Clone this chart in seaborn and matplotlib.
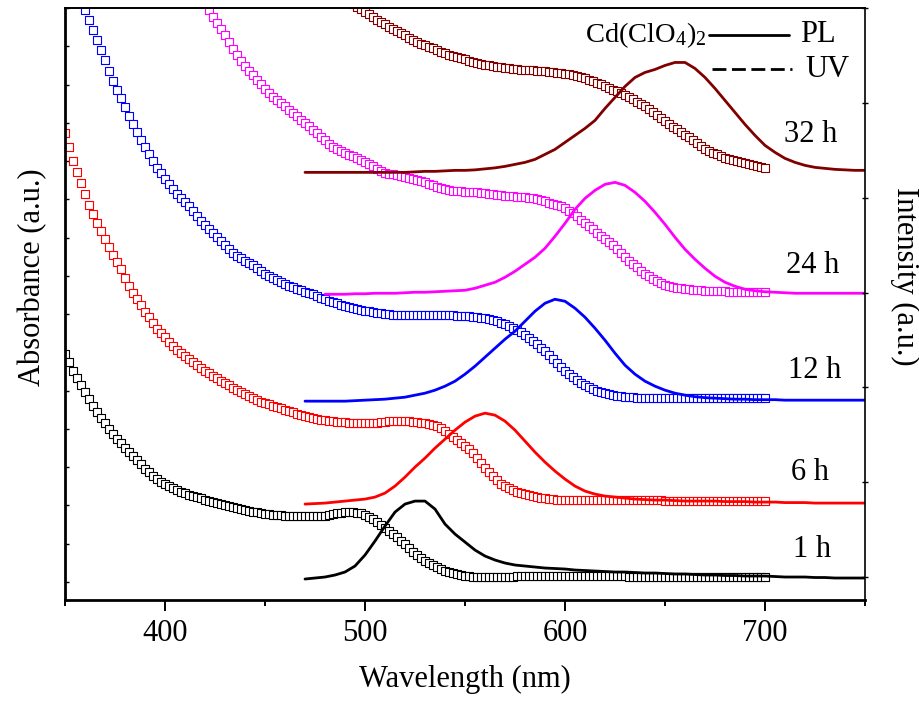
import numpy as np
import matplotlib
matplotlib.use("Agg")
import matplotlib.pyplot as plt
import seaborn as sns
from matplotlib.lines import Line2D

sns.set_theme(style="ticks")
plt.rcParams['font.family'] = ['Liberation Serif', 'DejaVu Serif']
plt.rcParams['mathtext.fontset'] = 'custom'
plt.rcParams['mathtext.rm'] = 'Liberation Serif'
plt.rcParams['mathtext.it'] = 'Liberation Serif:italic'
plt.rcParams['mathtext.bf'] = 'Liberation Serif:bold'
plt.rcParams['text.color'] = 'black'
plt.rcParams['axes.labelcolor'] = 'black'
plt.rcParams['xtick.color'] = 'black'
plt.rcParams['ytick.color'] = 'black'

# ---------------- data (offset, arbitrary units) ----------------
colors = ['#000000', '#FF0000', '#0000FF', '#FF00FF', '#800000']
time_labels = ['1 h', '6 h', '12 h', '24 h', '32 h']
label_x = [723.5, 722.5, 725, 724, 723]
label_y = [43, 120, 222, 327, 458]

# UV-vis absorbance (2 nm step)
uv_wl_1h = np.arange(350, 701, 2)
uv_1h = [246, 238, 229, 222, 215, 208, 201, 194, 188, 182,
         177, 171, 166, 161, 157, 152, 148, 144, 140, 136,
         131, 128, 124, 121, 118, 116, 114, 112, 110, 108,
         107, 105, 104, 103, 102, 100, 99, 98, 97, 96,
         95, 94, 93, 92, 91, 90, 89, 88.5, 88, 87,
         86.5, 86, 85.5, 85, 85, 84.5, 84, 84, 84, 84,
         84, 84, 84, 84, 84, 84.5, 85, 86, 87, 87.5,
         88, 88, 88, 87.5, 87, 85.5, 83.5, 81, 78, 75.5,
         72, 69, 66, 63, 59, 56, 52, 48, 45, 42,
         39.5, 37, 35, 33, 31, 29.5, 28, 27, 26, 25,
         24.5, 24, 23.5, 23, 23, 23, 23, 23, 23, 23,
         23.5, 23.5, 23.5, 24, 24, 24, 24, 24, 24, 24,
         24, 24, 24, 24, 24, 24, 24, 24, 24, 24,
         24, 24, 24, 24, 24, 24, 24, 24, 24, 24,
         24, 23.5, 23.5, 23.5, 23.5, 23.5, 23.5, 23.5, 23.5, 23.5,
         23.5, 23.5, 23.5, 23.5, 23.5, 23, 23, 23, 23, 23,
         23, 23, 23, 23, 23, 23, 23, 23, 23, 23,
         23, 23, 23, 23, 23,
         23]

uv_wl_6h = np.arange(350, 701, 2)
uv_6h = [467, 453, 439, 428, 417, 406, 395, 386, 377, 369,
         361, 353, 345, 338, 331, 322, 314, 307, 301, 295,
         288, 283, 277, 271, 267, 263, 258, 254, 250, 247,
         244, 241, 238, 235, 232, 229, 227, 224, 222, 219,
         217, 215, 212, 210, 208, 206, 204, 202, 200, 198,
         197, 196, 194, 193, 192, 190, 189, 188, 186, 185,
         184, 183, 182, 181, 180.5, 180, 179.5, 179, 178.5, 178,
         178, 177.5, 177, 177, 177, 177, 177, 177, 177.5, 178,
         178.5, 179, 179, 179, 179, 179, 179, 178.5, 178, 177.5,
         177, 176, 175, 174, 172, 169, 166, 163, 160, 157,
         154, 151, 147, 142, 137, 132, 128, 124, 120, 116,
         114, 112, 110, 108, 107, 106, 105, 104, 103, 102.5,
         102, 101.5, 101, 100.5, 100, 100, 100, 100, 100, 100,
         100, 100, 100, 100, 100, 100, 100, 100, 100, 100,
         100, 100, 100, 100, 100, 100, 100, 100, 100, 100,
         99.5, 99.5, 99.5, 99.5, 99.5, 99.5, 99.5, 99.5, 99.5, 99.5,
         99.5, 99.5, 99.5, 99.5, 99.5, 99.5, 99.5, 99.5, 99.5, 99.5,
         99, 99, 99, 99, 99,
         99]

uv_wl_12h = np.arange(358, 701, 2)
uv_12h = [600, 590, 580, 570, 560, 550, 540, 529, 519, 510,
          502, 493, 484, 476, 468, 460, 453, 446, 439, 432,
          427, 421, 416, 411, 406, 402, 398, 394, 389, 384,
          379, 375, 371, 367, 363, 359, 355, 351, 347, 344,
          342, 339, 337, 335, 332, 329, 326, 324, 322, 320,
          318, 316, 314, 313, 311, 310, 308, 307, 306, 304,
          302, 301, 299, 298, 297, 295, 294, 293, 292, 291,
          290, 289.5, 289, 288, 287.5, 287, 286.5, 286, 285.5, 285,
          285, 285, 285, 285, 285, 285, 285, 285, 285, 285,
          285, 285, 285, 285, 284.5, 284.5, 284, 284, 283.5, 283,
          282.5, 282, 281, 280, 279, 277.5, 276, 274.5, 272, 270,
          268, 265, 262, 259, 256, 252.5, 249, 245, 241, 237,
          233, 229, 226, 223, 220, 217.5, 215, 213, 211, 209.5,
          208, 207, 206, 205, 204.5, 204, 203.5, 203, 203, 202.5,
          202.5, 202.5, 202.5, 202.5, 202.5, 202.5, 202.5, 202.5, 202.5, 202.5,
          202, 202, 202, 202, 202, 202, 202, 202, 202, 202,
          202, 202, 202, 202, 202, 202, 202, 202, 202, 202,
          202, 202]

uv_wl_24h = np.arange(420, 701, 2)
uv_24h = [598, 590, 583, 577, 571, 565, 558, 551, 545, 539,
          534, 529, 525, 520, 516, 511, 507, 503, 500, 497,
          494, 490, 487, 484, 480, 477, 474, 470, 467, 463,
          460, 456, 453, 451, 449, 447, 445, 444, 442, 440,
          438, 436, 434, 431, 429, 427.5, 426.5, 426, 425, 424.5,
          423.5, 422.5, 421.5, 420, 419, 418, 416.5, 415, 413.5, 412,
          411, 410, 409.5, 409, 409, 408.5, 408.5, 408, 408, 407.5,
          407, 406.5, 406, 405.5, 405, 404.5, 404, 404, 403.5, 403,
          403, 402.5, 402, 401, 400, 399, 397.5, 396.5, 395, 394,
          392, 389.5, 387, 384, 380.5, 377, 374, 371, 367.5, 364,
          361, 358, 355, 351, 347, 343, 339.5, 336, 333, 329.5,
          326.5, 324, 321.5, 319, 317, 315.5, 314.5, 313.5, 312.5, 312,
          311.5, 311, 310.5, 310, 310, 309.5, 309.5, 309, 309, 309,
          309, 308.5, 308.5, 308.5, 308.5, 308, 308, 308, 308, 308,
          308]

uv_wl_32h = np.arange(494, 701, 2)
uv_32h = [597, 594, 591, 588, 586, 583, 580, 578, 576, 573,
          571, 569, 567, 565, 562, 560, 558, 556.5, 555, 553.5,
          552, 550, 548.5, 547, 545.5, 544.5, 543, 542, 541, 539.5,
          538.5, 537.5, 536.5, 535.5, 535, 534, 533.5, 533, 532.5, 532,
          531.5, 531, 530.5, 530.5, 530, 530, 529.5, 529, 529, 528.5,
          528, 527.5, 527, 526.5, 526, 525, 524, 523, 522, 520.5,
          519, 517.5, 516, 514, 512, 510.5, 509, 507.5, 505.5, 503.5,
          501, 498.5, 496.5, 494, 491, 488, 485, 482.5, 479.5, 476.5,
          473.5, 471, 468, 465.5, 463, 460, 457, 454, 451.5, 449.5,
          447.5, 446, 444, 442.5, 441, 440, 439, 438, 437, 436,
          435, 434, 433, 432]

# Photoluminescence (5 nm step)
pl_wl_1h = np.arange(470, 751, 5)
pl_1h = [21, 22, 23, 25, 28, 34, 45, 59, 74, 88,
         96, 99, 99, 91, 76, 66, 58, 50, 44, 40,
         37, 35, 34, 33, 32, 31.5, 31, 30, 29.5, 29,
         28.5, 28, 28, 27.5, 27, 27, 26.5, 26, 26, 25.5,
         25, 25, 24.5, 24.5, 24, 24, 24, 23.5, 23, 23,
         23, 22.5, 22.5, 22, 22, 22, 22]

pl_wl_6h = np.arange(470, 751, 5)
pl_6h = [96, 96.5, 97, 98, 99, 100, 101, 103, 107, 114,
         123, 133, 142, 152, 161, 170, 178, 184, 187, 185,
         179, 170, 159, 148, 138, 129, 121, 114, 109, 106,
         104, 103, 102, 101, 100.5, 100, 100, 99.5, 99, 99,
         99, 99, 98.5, 98.5, 98.5, 98, 98, 98, 97.5, 97.5,
         97.5, 97, 97, 97, 97, 97, 97]

pl_wl_12h = np.arange(470, 751, 5)
pl_12h = [199, 199, 199, 199, 199, 199.5, 200, 200.5, 201, 202,
          203, 205, 207, 210, 214, 219, 226, 234, 243, 252,
          261, 269, 279, 289, 297, 301, 299, 292, 283, 272,
          260, 247, 235, 226, 219, 214, 210, 207, 205, 203.5,
          202.5, 202, 201.5, 201, 201, 200.5, 200.5, 200.5, 200, 200,
          200, 200, 200, 200, 200, 200, 200]

pl_wl_24h = np.arange(480, 751, 5)
pl_24h = [306, 306, 306, 306.5, 306.5, 307, 307, 307, 307.5, 308,
          308, 308.5, 309, 309.5, 310, 312, 315, 318, 323, 329,
          336, 343, 352, 364, 377, 391, 402, 410, 416, 418,
          415, 408, 399, 388, 376, 363, 351, 341, 332, 324,
          318, 314, 311, 309.5, 308.5, 308, 307.5, 307, 307, 307,
          307, 307, 307, 307, 307]

pl_wl_32h = np.arange(470, 751, 5)
pl_32h = [428, 428, 428, 428, 428, 428, 428, 428, 428, 428,
          428, 428.5, 429, 429, 429.5, 430, 430, 430.5, 431.5, 432.5,
          434, 436, 438, 441, 446, 451, 458, 465, 472, 480,
          492, 503, 514, 523, 528, 531, 535, 538, 538, 532,
          523, 512, 500, 488, 476, 465, 455, 448, 442, 438,
          435, 433, 432, 431, 430.5, 430, 430]

uv_wl = [uv_wl_1h, uv_wl_6h, uv_wl_12h, uv_wl_24h, uv_wl_32h]
uv_vals = [uv_1h, uv_6h, uv_12h, uv_24h, uv_32h]
pl_wl = [pl_wl_1h, pl_wl_6h, pl_wl_12h, pl_wl_24h, pl_wl_32h]
pl_vals = [pl_1h, pl_6h, pl_12h, pl_24h, pl_32h]

left_ticks = [18 + 38.3 * k for k in range(16)]
right_ticks = [23, 117.8, 212.6, 307.4, 402.2, 497, 591.8]

# ---------------- figure ----------------
fig = plt.figure(figsize=(9.2, 7.04), dpi=100)
ax = fig.add_axes([65 / 920, 104 / 704, 800 / 920, 592 / 704])

for wl, vals, c in zip(uv_wl, uv_vals, colors):
    sns.scatterplot(x=wl, y=vals, ax=ax, marker='s', s=28, color='white',
                    edgecolor=c, linewidth=0.8, legend=False, zorder=2)
for wl, vals, c in zip(pl_wl, pl_vals, colors):
    sns.lineplot(x=wl, y=vals, ax=ax, color=c, linewidth=2.0,
                 errorbar=None, legend=False, zorder=3)

for t, x, y in zip(time_labels, label_x, label_y):
    ax.text(x, y, t, ha='center', va='baseline', fontsize=22)

# legend-like key
ax.add_line(Line2D([0.805, 0.905], [0.9544, 0.9544], transform=ax.transAxes,
                   color='black', lw=2.0))
ax.add_line(Line2D([0.809, 0.909], [0.897, 0.897], transform=ax.transAxes,
                   color='black', lw=2.0, dashes=(5, 2)))
ax.text(0.65, 0.9426, r'Cd(ClO$_4$)$_2$', transform=ax.transAxes,
        ha='left', va='baseline', fontsize=20.5)
ax.text(0.919, 0.943, 'PL', transform=ax.transAxes, ha='left',
        va='baseline', fontsize=22)
ax.text(0.925, 0.8834, 'UV', transform=ax.transAxes, ha='left',
        va='baseline', fontsize=22)

ax.set_xlim(350, 750)
ax.set_ylim(0, 592)
ax.set_xticks([400, 500, 600, 700])
ax.set_xticks([350, 450, 550, 650, 750], minor=True)
ax.set_yticks(left_ticks)
ax.set_yticks([], minor=True)
ax.tick_params(axis='x', which='major', direction='out', length=8, width=1.4,
               labelsize=22, pad=6, colors='black')
ax.tick_params(axis='x', which='minor', direction='out', length=4, width=1.4,
               colors='black')
ax.tick_params(axis='y', which='major', direction='in', length=3, width=1,
               labelleft=False, colors='black')
ax.set_xlabel('Wavelength (nm)', fontsize=22, labelpad=12, color='black')
ax.set_ylabel('')

for side, w in [('left', 2.0), ('bottom', 2.0), ('top', 1.4)]:
    ax.spines[side].set_linewidth(w)
    ax.spines[side].set_color('black')
    ax.spines[side].set_visible(True)
ax.spines['right'].set_visible(False)

ax2 = ax.twinx()
ax2.set_ylim(0, 592)
ax2.set_yticks(right_ticks)
ax2.tick_params(axis='y', direction='inout', length=5, width=1,
                labelright=False, colors='black')
for side in ['left', 'bottom', 'top']:
    ax2.spines[side].set_visible(False)
ax2.spines['right'].set_visible(True)
ax2.spines['right'].set_linewidth(1.2)
ax2.spines['right'].set_color('black')

ax.text(-0.04, 0.546, 'Absorbance (a.u.)', rotation=90, ha='center',
        va='center', transform=ax.transAxes, fontsize=22, color='black')
ax.text(1.05, 0.546, 'Intensity (a.u.)', rotation=270, ha='center',
        va='center', transform=ax.transAxes, fontsize=22, color='black')

fig.savefig('out.png', dpi=100)
